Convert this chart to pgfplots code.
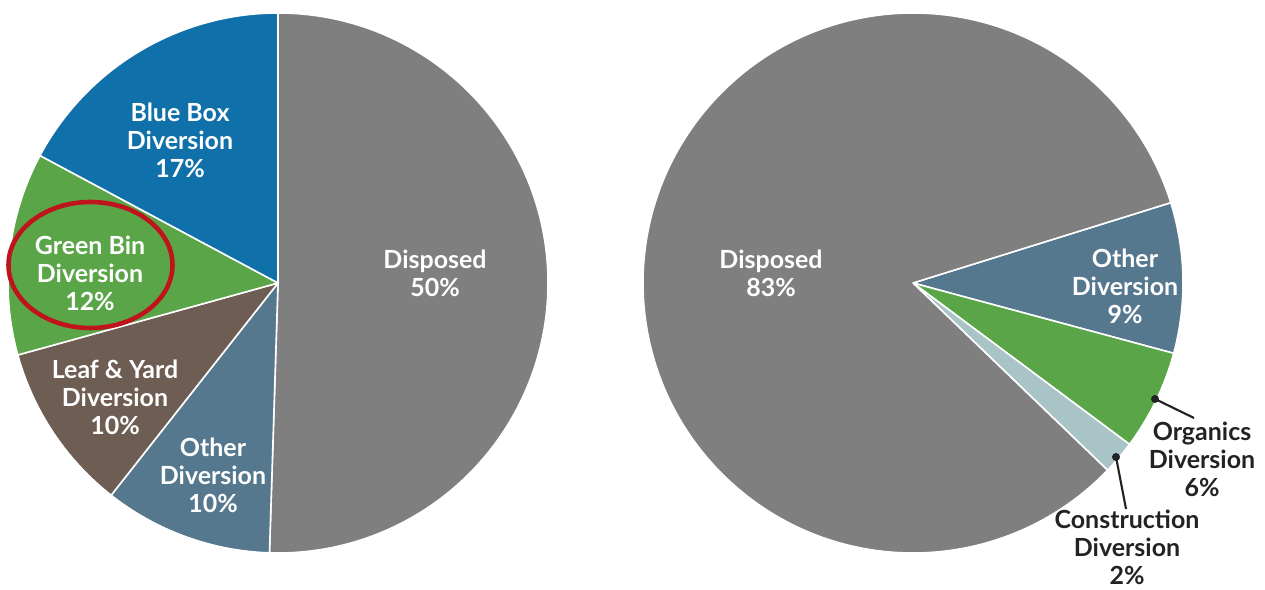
\documentclass[border=0pt]{standalone}
\usepackage{fontspec}
\setmainfont{Lato}
\usepackage{pgfplots}
\usepackage{pgfplotstable}
\pgfplotsset{compat=1.18}

\definecolor{cDisp}{HTML}{7F7F7F}
\definecolor{cBlue}{HTML}{1070AA}
\definecolor{cGreen}{HTML}{5AA548}
\definecolor{cBrown}{HTML}{6E5D53}
\definecolor{cOther}{HTML}{56788F}
\definecolor{cConst}{HTML}{A9C4C7}
\definecolor{cRed}{HTML}{C0141C}
\definecolor{cText}{HTML}{222222}

% clockwise from start angle
\pgfplotstableread{
label        value  color
Disposed     50     cDisp
Other        10     cOther
LeafYard     10     cBrown
GreenBin     12     cGreen
BlueBox      17     cBlue
}\lefttab
\pgfplotstableread{
label        value  color
Other        9      cOther
Organics     6      cGreen
Construction 2      cConst
Disposed     83     cDisp
}\righttab

% draw a pie from table #1 with center (#2,#3), start angle #4, radius #5
\newcommand{\drawpie}[5]{%
  \pgfplotstablegetrowsof{#1}%
  \pgfmathtruncatemacro\nrows{\pgfplotsretval-1}%
  \def\pietotal{0}%
  \pgfplotsforeachungrouped \i in {0,...,\nrows}{%
    \pgfplotstablegetelem{\i}{value}\of{#1}%
    \pgfmathsetmacro\pietotal{\pietotal+\pgfplotsretval}%
  }%
  \def\piestart{#4}%
  \pgfplotsforeachungrouped \i in {0,...,\nrows}{%
    \pgfplotstablegetelem{\i}{value}\of{#1}%
    \let\pieval=\pgfplotsretval
    \pgfplotstablegetelem{\i}{color}\of{#1}%
    \let\piecol=\pgfplotsretval
    \pgfmathsetmacro\pieend{\piestart-\pieval/\pietotal*360}%
    \edef\piecmd{\noexpand\fill[\piecol, draw=white, line width=0.45pt, line join=round]
      (axis cs:#2,#3) -- ++(\piestart:#5) arc[start angle=\piestart, end angle=\pieend, radius=#5] -- cycle;}%
    \piecmd
    \global\let\piestart\pieend
  }%
}

\begin{document}
\begin{tikzpicture}
\useasboundingbox (0,0) rectangle (12.65,5.89);
\begin{axis}[
  at={(0,0)}, anchor=south west,
  scale only axis, width=12.65cm, height=5.89cm,
  xmin=0, xmax=1265, ymin=0, ymax=589,
  hide axis, clip=false,
]
\drawpie{\lefttab}{278}{306}{90}{2.70cm}
\drawpie{\righttab}{913}{306}{17.3}{2.70cm}

\tikzset{lbl/.style={align=center, inner sep=0pt, font=\fontsize{7.1}{8}\selectfont\bfseries}}
% left pie labels
\node[lbl, white] at (axis cs:180,449) {Blue Box\\Diversion\\17\%};
\node[lbl, white] at (axis cs:90,316) {Green Bin\\Diversion\\12\%};
\node[lbl, white] at (axis cs:115,192) {Leaf \& Yard\\Diversion\\10\%};
\node[lbl, white] at (axis cs:213,114) {Other\\Diversion\\10\%};
\node[lbl, white] at (axis cs:435,316) {Disposed\\50\%};
% red ellipse
\draw[cRed, line width=1.3pt] (axis cs:90.5,324) ellipse [x radius=0.82cm, y radius=0.63cm];
% right pie labels
\node[lbl, white] at (axis cs:771,316) {Disposed\\83\%};
\node[lbl, white] at (axis cs:1125,303) {Other\\Diversion\\9\%};
\node[lbl, cText] at (axis cs:1202,130) {Organics\\Diversion\\6\%};
\node[lbl, cText] at (axis cs:1127,42) {Construction\\Diversion\\2\%};
% leader lines
\draw[cText, line width=0.6pt] (axis cs:1155,190) -- (axis cs:1194,171);
\fill[cText] (axis cs:1155,190) circle (0.04cm);
\draw[cText, line width=0.6pt] (axis cs:1116,132) -- (axis cs:1126,80);
\fill[cText] (axis cs:1116,132) circle (0.04cm);
\end{axis}
\end{tikzpicture}
\end{document}
